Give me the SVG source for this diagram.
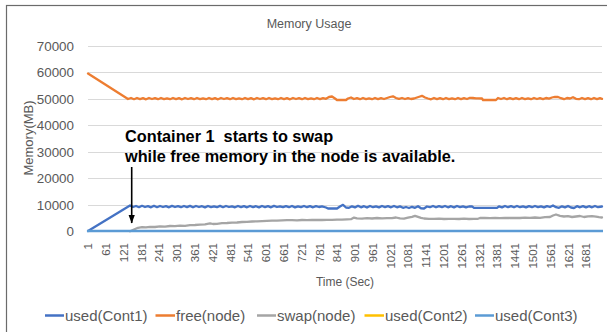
<svg xmlns="http://www.w3.org/2000/svg" width="607" height="332" viewBox="0 0 607 332">
<style>
text{font-family:"Liberation Sans",Arial,sans-serif;fill:#595959}
.grid{stroke:#D9D9D9;stroke-width:1}
.yl{font-size:13.4px;text-anchor:end}
.xl{font-size:11.5px;text-anchor:end}
.ser{fill:none;stroke-width:2.3;stroke-linejoin:round;stroke-linecap:round}
.lg{font-size:15px}
.lgl{stroke-width:2.5}
.ann{font-size:16.3px;font-weight:bold;fill:#000}
</style>
<defs>
<marker id="ah" markerWidth="9" markerHeight="8" refX="8" refY="4" orient="auto" markerUnits="userSpaceOnUse" viewBox="0 0 9 8">
<path d="M0,0.9 L8.5,4 L0,7.1 Z" fill="#000"/>
</marker>
</defs>
<rect width="607" height="332" fill="#fff"/>
<g id="frame"><rect x="6.5" y="5.5" width="620" height="340" fill="none" stroke="#6b6b6b" stroke-width="1.2"/></g>
<g id="title"><text x="309" y="28" font-size="12.5px" text-anchor="middle">Memory Usage</text></g>
<g id="grid">
<line class="grid" x1="88" y1="46.5" x2="602" y2="46.5"/>
<line class="grid" x1="88" y1="72.5" x2="602" y2="72.5"/>
<line class="grid" x1="88" y1="99.5" x2="602" y2="99.5"/>
<line class="grid" x1="88" y1="125.5" x2="602" y2="125.5"/>
<line class="grid" x1="88" y1="152.5" x2="602" y2="152.5"/>
<line class="grid" x1="88" y1="178.5" x2="602" y2="178.5"/>
<line class="grid" x1="88" y1="205.5" x2="602" y2="205.5"/>
</g>
<g id="y-axis">
<text class="yl" x="74" y="51">70000</text>
<text class="yl" x="74" y="77.4">60000</text>
<text class="yl" x="74" y="103.9">50000</text>
<text class="yl" x="74" y="130.3">40000</text>
<text class="yl" x="74" y="156.7">30000</text>
<text class="yl" x="74" y="183.1">20000</text>
<text class="yl" x="74" y="209.6">10000</text>
<text class="yl" x="74" y="236">0</text>
<text transform="translate(33,138) rotate(-90)" font-size="13px" text-anchor="middle">Memory(MB)</text>
</g>
<g id="x-axis">
<text class="xl" transform="translate(92.2,243) rotate(-90)">1</text>
<text class="xl" transform="translate(110,243) rotate(-90)">61</text>
<text class="xl" transform="translate(127.8,243) rotate(-90)">121</text>
<text class="xl" transform="translate(145.6,243) rotate(-90)">181</text>
<text class="xl" transform="translate(163.4,243) rotate(-90)">241</text>
<text class="xl" transform="translate(181.2,243) rotate(-90)">301</text>
<text class="xl" transform="translate(198.9,243) rotate(-90)">361</text>
<text class="xl" transform="translate(216.7,243) rotate(-90)">421</text>
<text class="xl" transform="translate(234.5,243) rotate(-90)">481</text>
<text class="xl" transform="translate(252.3,243) rotate(-90)">541</text>
<text class="xl" transform="translate(270.1,243) rotate(-90)">601</text>
<text class="xl" transform="translate(287.9,243) rotate(-90)">661</text>
<text class="xl" transform="translate(305.7,243) rotate(-90)">721</text>
<text class="xl" transform="translate(323.5,243) rotate(-90)">781</text>
<text class="xl" transform="translate(341.3,243) rotate(-90)">841</text>
<text class="xl" transform="translate(359.1,243) rotate(-90)">901</text>
<text class="xl" transform="translate(376.8,243) rotate(-90)">961</text>
<text class="xl" transform="translate(394.6,243) rotate(-90)">1021</text>
<text class="xl" transform="translate(412.4,243) rotate(-90)">1081</text>
<text class="xl" transform="translate(430.2,243) rotate(-90)">1141</text>
<text class="xl" transform="translate(448,243) rotate(-90)">1201</text>
<text class="xl" transform="translate(465.8,243) rotate(-90)">1261</text>
<text class="xl" transform="translate(483.6,243) rotate(-90)">1321</text>
<text class="xl" transform="translate(501.4,243) rotate(-90)">1381</text>
<text class="xl" transform="translate(519.2,243) rotate(-90)">1441</text>
<text class="xl" transform="translate(537,243) rotate(-90)">1501</text>
<text class="xl" transform="translate(554.7,243) rotate(-90)">1561</text>
<text class="xl" transform="translate(572.5,243) rotate(-90)">1621</text>
<text class="xl" transform="translate(590.3,243) rotate(-90)">1681</text>
<text x="345" y="286" font-size="12px" text-anchor="middle">Time (Sec)</text>
</g>
<g id="series">
<polyline id="used-cont1" class="ser" stroke="#4472C4" points="88,231 130,205.5 133,207 136,206 139,207.2 142,205.8 145,207 148,206.2 151,207.3 154,205.8 157,207.2 160,206 163,207 166,206.2 169,207.3 172,205.9 175,207 178,206.1 181,207.2 184,206 187,207.1 190,205.9 193,207.3 196,206 199,207 202,206.2 205,207.4 208,206 211,207.1 214,206.4 217,207.2 220,205.9 223,207.2 226,206 229,207 232,206.3 235,207.3 238,206 241,207.1 244,206.2 247,207.3 250,206 253,207.1 256,206.2 259,207.4 262,206 265,207.1 268,206.2 271,207.3 274,205.9 277,207 280,206.3 283,207.2 286,206.1 289,207.2 292,206 295,207.4 298,206.3 301,207.1 304,206 307,207.2 310,206.2 313,207.3 316,206.1 319,207 322,206.4 326,207.5 328,208.5 337,208.5 340,206.5 343,204.8 346,207.5 349,207.8 352,206.3 355,207.4 358,205.8 361,207.3 364,206.2 367,207.5 370,206 373,207.2 376,206.3 379,207.4 382,206 385,207.1 388,206.2 391,207.3 394,206 397,207.3 400,206.4 403,207.8 406,207 409,208 412,206.8 415,207.8 418,206.2 421,208.3 424,208.5 427,206.5 430,207.2 433,206 436,207.3 439,206.1 442,207.1 445,206 448,207.3 451,206.2 454,207.4 457,206 460,207.1 463,206.3 466,207.3 469,206.5 472,206.3 474,207.8 497,207.8 499,206.3 502,207.4 505,206 508,207.2 511,206.1 514,207.3 517,206 520,207.2 523,206.3 526,207.4 529,206.1 532,207.2 535,206 538,207.1 541,206.3 544,207.4 547,206.1 550,207 553,205.5 556,207.2 559,207.8 562,206.3 565,207.4 568,206 571,207.5 574,208 577,206.2 580,207.3 583,206.1 586,207.4 589,206.2 592,207.3 595,206 598,207.2 602,206.5"/>
<polyline id="free-node" class="ser" stroke="#ED7D31" points="88,73.5 128,99 131,98 134,99.2 137,98 140,99.1 143,98.2 146,99.3 149,98 152,99 155,98.2 158,99.2 161,98 164,99.1 167,98.3 170,99.2 173,98 176,99.1 179,98.2 182,99.3 185,98 188,99 191,98.2 194,99.2 197,98 200,99.1 203,98.3 206,99.2 209,98 212,99.1 215,98.2 218,99.3 221,98 224,99 227,98.2 230,99.2 233,98 236,99.1 239,98.3 242,99.2 245,98 248,99.1 251,98.2 254,99.3 257,98 260,99 263,98.2 266,99.2 269,98 272,99.1 275,98.3 278,99.2 281,98 284,99.1 287,98.2 290,99.3 293,98 296,99 299,98.2 302,99.2 305,98 308,99.1 311,98.3 314,99.2 317,98 320,99.1 323,98.2 326,98.8 329,97 332,96.5 335,98.5 337,100 346,100 348,98.5 351,97.5 354,99 357,98.2 360,99.2 363,98 366,99.1 369,98.3 372,99.2 375,98 378,99.1 381,98.2 384,99 387,98 390,97 393,96.3 396,98 399,98.8 402,98 405,99 408,98.2 411,99 414,98.5 417,97.5 420,96.5 422,95.8 425,97.5 428,98.5 431,99.3 434,98 437,99.1 440,98.2 443,99.2 446,98 449,99.1 452,98.3 455,99.2 458,98 461,99.1 464,98.2 467,99 470,97.8 473,98 476,98.3 478,98.3 482,98.5 483,100 496,100 498,98 501,99 504,98 507,99.2 510,98.1 513,99.1 516,98.2 519,99.2 522,98 525,99.1 528,98.3 531,99.2 534,98 537,99 540,98.2 543,99.1 546,98 549,98.6 552,97.5 555,96.8 558,97 561,98.2 564,99.2 567,98 570,98.5 573,97.2 576,98.8 579,99.2 582,98 585,99.1 588,98.2 591,99.2 594,98 597,99.1 600,98.2 602,98.8"/>
<polyline id="swap-node" class="ser" stroke="#A5A5A5" stroke-width="2" points="130,231.3 134,229.5 138,227.8 142,227.2 146,227.4 150,226.8 155,227 160,226.4 165,226.6 170,226 175,226.2 180,225.6 185,225.8 190,225.2 195,225 200,224.6 205,224.3 210,223.3 213,224 217,223.8 222,223.2 227,223 232,222.6 237,222.5 242,222 247,221.8 252,221.5 257,221.3 262,221.1 267,220.9 272,220.6 277,220.6 282,220.4 287,220.2 292,220.1 297,220.3 302,220 307,220.2 312,220 317,219.8 322,220 327,219.8 332,219.9 337,219.6 342,219.7 347,219.3 351,219.2 354,217.6 357,218.3 362,218.6 367,218.2 372,218.5 377,218 382,218.4 387,218.2 392,218.2 396,217.5 400,218.4 404,218.6 408,217.7 412,216.8 415,215.8 418,216.8 421,217.8 424,218.5 429,218.8 434,218.9 439,218.7 444,219 449,218.8 454,218.9 459,219 464,218.7 469,219 474,218.8 478,218.8 480,218 485,218 490,218.1 495,218 500,218.2 505,217.8 510,218 515,217.9 520,218 525,217.7 530,217.9 535,217.5 540,217.8 545,217.2 550,217 553,215.5 556,214.5 560,215.8 564,216.5 568,216.2 572,217 576,216.5 580,216 584,217 588,216.3 592,216.2 596,216.6 599,217.2 602,217.5"/>
<line id="used-cont2" x1="88" y1="231" x2="602" y2="231" stroke="#FFC000" stroke-width="2"/>
<line id="used-cont3" x1="87" y1="231" x2="603" y2="231" stroke="#5B9BD5" stroke-width="2.4"/>
</g>
<g id="annotation">
<text class="ann" x="125" y="142" xml:space="preserve">Container 1  starts to swap</text>
<text class="ann" x="125" y="162">while free memory in the node is available.</text>
</g>
<g id="connectors">
<line x1="131.7" y1="167" x2="131.7" y2="223" stroke="#000" stroke-width="1.6" marker-end="url(#ah)"/>
</g>
<g id="legend">
<line class="lgl" x1="45" y1="315.5" x2="64" y2="315.5" stroke="#4472C4"/>
<text class="lg" x="65" y="320.5">used(Cont1)</text>
<line class="lgl" x1="155.5" y1="315.5" x2="175" y2="315.5" stroke="#ED7D31"/>
<text class="lg" x="176" y="320.5">free(node)</text>
<line class="lgl" x1="257" y1="315.5" x2="276" y2="315.5" stroke="#A5A5A5"/>
<text class="lg" x="277" y="320.5">swap(node)</text>
<line class="lgl" x1="364.5" y1="315.5" x2="384" y2="315.5" stroke="#FFC000"/>
<text class="lg" x="385" y="320.5">used(Cont2)</text>
<line class="lgl" x1="475" y1="315.5" x2="494" y2="315.5" stroke="#5B9BD5"/>
<text class="lg" x="495" y="320.5">used(Cont3)</text>
</g>
</svg>
